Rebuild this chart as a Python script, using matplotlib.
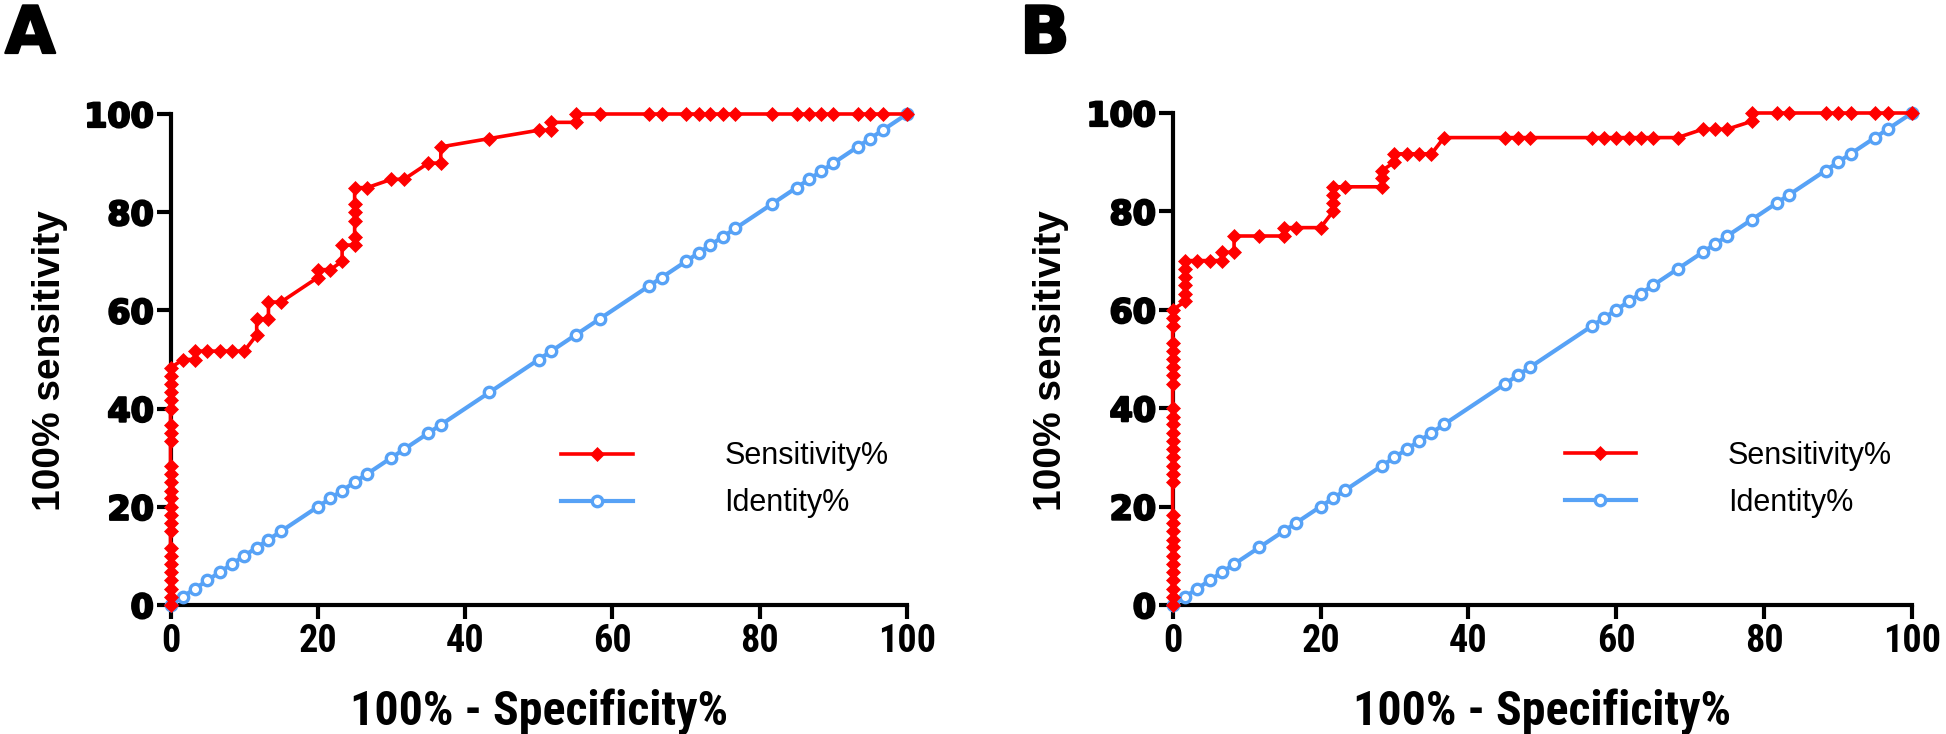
import matplotlib
matplotlib.use('Agg')
import matplotlib.pyplot as plt
from matplotlib import font_manager
from matplotlib.font_manager import FontProperties
import matplotlib.patheffects as pe


def _wnum(w):
    if isinstance(w, (int, float)):
        return int(w)
    return {'bold': 700, 'normal': 400, 'regular': 400, 'medium': 500,
            'semibold': 600, 'demibold': 600, 'heavy': 800, 'black': 900,
            'light': 300}.get(str(w).lower(), 400)


def pick_condensed_bold():
    cands = []
    for f in font_manager.fontManager.ttflist:
        n = f.name
        st = f.stretch
        narrow = ('Narrow' in n or 'Condensed' in n or
                  (isinstance(st, str) and 'condensed' in st) or
                  (isinstance(st, (int, float)) and st < 500))
        if not narrow or 'Mono' in n or 'Serif' in n or f.style != 'normal':
            continue
        w = _wnum(f.weight)
        pref = 3 if 'Liberation' in n else 2 if 'Roboto' in n else 1 if 'DejaVu' in n else 0
        cands.append((w >= 600, -abs(w - 700), pref, f.fname, n))
    if not cands:
        return None, None
    cands.sort(reverse=True)
    return cands[0][3], cands[0][4]


NARROW_FILE, NARROW_NAME = pick_condensed_bold()
ARIAL = 'Liberation Sans'


def narrow_props(size):
    if NARROW_FILE:
        return FontProperties(fname=NARROW_FILE, size=size)
    return FontProperties(family=ARIAL, weight='bold', size=size * 0.92)


# ---------------- data ----------------
# Panel A ROC: 100% - Specificity% (x) vs Sensitivity% (y)
a_fpr = [0, 0, 0, 0, 0, 0, 0, 0, 0, 0, 0, 0, 0, 0, 0, 0, 0, 0, 0, 0, 0, 0, 0, 0, 0, 0,
         1.7, 3.3, 3.3, 5, 6.7, 8.3, 10, 11.7, 11.7, 13.3, 13.3, 15, 20, 20, 21.7, 23.3, 23.3,
         25, 25, 25, 25, 25, 25, 26.7, 30, 31.7, 35, 36.7, 36.7, 43.3, 50, 51.7, 51.7, 55, 55,
         58.3, 65, 66.7, 70, 71.7, 73.3, 75, 76.7, 81.7, 85, 86.7, 88.3, 90, 93.3, 95, 96.7, 100]
a_sens = [0, 1.7, 3.3, 5, 6.7, 8.3, 10, 11.7, 15, 16.7, 18.3, 20, 21.7, 23.3, 25, 26.7, 28.3,
          33.3, 35, 36.7, 40, 41.7, 43.3, 45, 46.7, 48.3,
          50, 50, 51.7, 51.7, 51.7, 51.7, 51.7, 55, 58.3, 58.3, 61.7, 61.7, 66.7, 68.3, 68.3, 70, 73.3,
          73.3, 75, 78.3, 80, 81.7, 85, 85, 86.7, 86.7, 90, 90, 93.3, 95, 96.7, 96.7, 98.3, 98.3, 100,
          100, 100, 100, 100, 100, 100, 100, 100, 100, 100, 100, 100, 100, 100, 100, 100, 100]
a_identity = [0, 1.7, 3.3, 5, 6.7, 8.3, 10, 11.7, 13.3, 15, 20, 21.7, 23.3, 25, 26.7, 30, 31.7,
              35, 36.7, 43.3, 50, 51.7, 55, 58.3, 65, 66.7, 70, 71.7, 73.3, 75, 76.7, 81.7, 85,
              86.7, 88.3, 90, 93.3, 95, 96.7, 100]

# Panel B ROC
b_fpr = [0, 0, 0, 0, 0, 0, 0, 0, 0, 0, 0, 0, 0, 0, 0, 0, 0, 0, 0, 0, 0, 0, 0, 0, 0, 0, 0, 0, 0, 0, 0,
         1.7, 1.7, 1.7, 1.7, 1.7, 1.7, 3.3, 5, 6.7, 6.7, 8.3, 8.3, 11.7, 15, 15, 16.7, 20,
         21.7, 21.7, 21.7, 21.7, 23.3, 28.3, 28.3, 28.3, 30, 30, 31.7, 33.3, 35, 36.7, 45, 46.7,
         48.3, 56.7, 58.3, 60, 61.7, 63.3, 65, 68.3, 71.7, 73.3, 75, 78.3, 78.3, 81.7, 83.3,
         88.3, 90, 91.7, 95, 96.7, 100]
b_sens = [0, 1.7, 3.3, 5, 6.7, 8.3, 10, 11.7, 13.3, 15, 16.7, 18.3, 25, 26.7, 28.3, 30, 31.7,
          33.3, 35, 36.7, 38.3, 40, 45, 46.7, 48.3, 50, 51.7, 53.3, 56.7, 58.3, 60,
          61.7, 63.3, 65, 66.7, 68.3, 70, 70, 70, 70, 71.7, 71.7, 75, 75, 75, 76.7, 76.7, 76.7,
          80, 81.7, 83.3, 85, 85, 85, 86.7, 88.3, 90, 91.7, 91.7, 91.7, 91.7, 95, 95, 95,
          95, 95, 95, 95, 95, 95, 95, 95, 96.7, 96.7, 96.7, 98.3, 100, 100, 100,
          100, 100, 100, 100, 100, 100]
b_identity = [0, 1.7, 3.3, 5, 6.7, 8.3, 11.7, 15, 16.7, 20, 21.7, 23.3, 28.3, 30, 31.7, 33.3,
              35, 36.7, 45, 46.7, 48.3, 56.7, 58.3, 60, 61.7, 63.3, 65, 68.3, 71.7, 73.3, 75,
              78.3, 81.7, 83.3, 88.3, 90, 91.7, 95, 96.7, 100]

ticks = [0, 20, 40, 60, 80, 100]
xlabel = '100% - Specificity%'
ylabel = '100% sensitivity'
series_labels = ['Sensitivity%', 'Identity%']
panel_letters = ['A', 'B']

RED = '#FF0000'
BLUE = '#57A2F6'
HEAVY = [pe.withStroke(linewidth=1.6, foreground='black')]

fig = plt.figure(figsize=(19.46, 7.34), dpi=100)
axA = fig.add_axes([170.5 / 1946, 129 / 734, 736.5 / 1946, 491 / 734])
axB = fig.add_axes([1172.7 / 1946, 129 / 734, 739.3 / 1946, 492 / 734])


def draw(ax, fpr, sens, ident):
    ax.plot(ident, ident, color=BLUE, lw=3.0, marker='o', ms=7.5, mfc='white',
            mec=BLUE, mew=2.4, clip_on=False, zorder=3, label=series_labels[1])
    ax.plot(fpr, sens, color=RED, lw=2.6, marker='D', ms=7, mfc=RED, mec=RED,
            mew=0.5, clip_on=False, zorder=4, label=series_labels[0])
    ax.set_xlim(0, 100)
    ax.set_ylim(0, 100)
    for s in ['top', 'right']:
        ax.spines[s].set_visible(False)
    for s in ['left', 'bottom']:
        ax.spines[s].set_linewidth(3.0)
        ax.spines[s].set_zorder(2)
    ax.set_xticks(ticks)
    ax.set_yticks(ticks)
    ax.tick_params(axis='both', direction='out', length=10, width=3.0, color='black')
    ax.tick_params(axis='y', pad=2)
    ax.tick_params(axis='x', pad=3)
    ylabs = ax.set_yticklabels([str(t) for t in ticks], fontsize=24, fontweight='bold',
                               family='DejaVu Sans')
    for t in ylabs:
        t.set_path_effects(HEAVY)
    ax.set_xticklabels([str(t) for t in ticks], fontproperties=narrow_props(27.5))
    ax.set_xlabel(xlabel, fontproperties=narrow_props(34.5), va='center')
    ax.xaxis.set_label_coords(0.5, -0.218)
    ax.set_ylabel(ylabel, fontsize=28, family=ARIAL, fontweight='bold', va='center')
    ax.yaxis.set_label_coords(-0.164, 0.497)
    h, l = ax.get_legend_handles_labels()
    ax.legend(h[::-1], l[::-1], loc='center left', bbox_to_anchor=(0.530, 0.255),
              frameon=False, borderpad=0, borderaxespad=0, handlelength=2.35,
              handletextpad=3.0, labelspacing=0.55,
              prop={'family': ARIAL, 'size': 22})


draw(axA, a_fpr, a_sens, a_identity)
draw(axB, b_fpr, b_sens, b_identity)

for letter, xpix in zip(panel_letters, [5, 1020]):
    fig.text(xpix / 1946, 1 - 3 / 734, letter, fontsize=47, fontweight='bold',
             family='DejaVu Sans', ha='left', va='top', path_effects=HEAVY)

fig.savefig('out.png', dpi=100)
